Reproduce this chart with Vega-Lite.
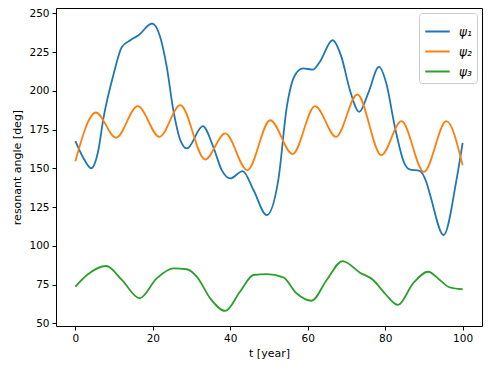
{
  "$schema": "https://vega.github.io/schema/vega-lite/v6.json",
  "width": 426,
  "height": 318,
  "autosize": {"type": "none"},
  "padding": {"left": 56, "top": 8, "right": 9, "bottom": 45},
  "background": "white",
  "config": {
    "font": "DejaVu Sans",
    "view": {"stroke": "black", "strokeWidth": 1},
    "axis": {
      "domain": false,
      "grid": false,
      "tickColor": "black",
      "tickSize": 4,
      "tickWidth": 1,
      "labelColor": "black",
      "labelFont": "DejaVu Sans",
      "labelFontSize": 10.5,
      "labelPadding": 3,
      "titleFont": "DejaVu Sans",
      "titleFontSize": 11,
      "titleFontWeight": "normal",
      "titleColor": "black"
    },
    "legend": {
      "labelFont": "DejaVu Sans",
      "labelFontSize": 12,
      "labelFontStyle": "italic",
      "labelColor": "black"
    }
  },
  "data": {
    "values": [
      {"t": 0, "v": 167.5, "s": "ψ₁"},
      {"t": 2, "v": 157, "s": "ψ₁"},
      {"t": 4.1, "v": 150, "s": "ψ₁"},
      {"t": 5.8, "v": 160, "s": "ψ₁"},
      {"t": 7.3, "v": 183, "s": "ψ₁"},
      {"t": 9.9, "v": 211, "s": "ψ₁"},
      {"t": 12.0, "v": 228.3, "s": "ψ₁"},
      {"t": 14.2, "v": 232.6, "s": "ψ₁"},
      {"t": 16.3, "v": 235.8, "s": "ψ₁"},
      {"t": 19.8, "v": 243.4, "s": "ψ₁"},
      {"t": 21.9, "v": 234.7, "s": "ψ₁"},
      {"t": 23.6, "v": 215.4, "s": "ψ₁"},
      {"t": 25.3, "v": 187.5, "s": "ψ₁"},
      {"t": 27.1, "v": 168.2, "s": "ψ₁"},
      {"t": 28.8, "v": 162.8, "s": "ψ₁"},
      {"t": 32.9, "v": 177.2, "s": "ψ₁"},
      {"t": 35.6, "v": 163.9, "s": "ψ₁"},
      {"t": 37.8, "v": 148.8, "s": "ψ₁"},
      {"t": 40, "v": 143.5, "s": "ψ₁"},
      {"t": 43.2, "v": 148.2, "s": "ψ₁"},
      {"t": 46, "v": 136, "s": "ψ₁"},
      {"t": 49.4, "v": 119.8, "s": "ψ₁"},
      {"t": 52.4, "v": 142.4, "s": "ψ₁"},
      {"t": 54.6, "v": 189.6, "s": "ψ₁"},
      {"t": 56.7, "v": 210, "s": "ψ₁"},
      {"t": 58.8, "v": 214.4, "s": "ψ₁"},
      {"t": 61.4, "v": 213.7, "s": "ψ₁"},
      {"t": 63.1, "v": 218.6, "s": "ψ₁"},
      {"t": 66.4, "v": 232.6, "s": "ψ₁"},
      {"t": 68.7, "v": 221.9, "s": "ψ₁"},
      {"t": 70.9, "v": 200.4, "s": "ψ₁"},
      {"t": 73.3, "v": 186.4, "s": "ψ₁"},
      {"t": 75.6, "v": 198.3, "s": "ψ₁"},
      {"t": 78.4, "v": 215.4, "s": "ψ₁"},
      {"t": 80.3, "v": 204.7, "s": "ψ₁"},
      {"t": 82.5, "v": 176.7, "s": "ψ₁"},
      {"t": 85, "v": 153, "s": "ψ₁"},
      {"t": 86.3, "v": 149.3, "s": "ψ₁"},
      {"t": 88.9, "v": 148.4, "s": "ψ₁"},
      {"t": 90.6, "v": 141.3, "s": "ψ₁"},
      {"t": 91.5, "v": 133.8, "s": "ψ₁"},
      {"t": 95.1, "v": 107, "s": "ψ₁"},
      {"t": 98.4, "v": 142.4, "s": "ψ₁"},
      {"t": 100, "v": 166.4, "s": "ψ₁"},

      {"t": 0, "v": 154.6, "s": "ψ₂"},
      {"t": 5.3, "v": 186, "s": "ψ₂"},
      {"t": 10.5, "v": 169.7, "s": "ψ₂"},
      {"t": 16.1, "v": 190.1, "s": "ψ₂"},
      {"t": 21.7, "v": 170.3, "s": "ψ₂"},
      {"t": 27.1, "v": 190.7, "s": "ψ₂"},
      {"t": 33.5, "v": 155.7, "s": "ψ₂"},
      {"t": 38.7, "v": 172.5, "s": "ψ₂"},
      {"t": 44.4, "v": 148.8, "s": "ψ₂"},
      {"t": 50.3, "v": 181, "s": "ψ₂"},
      {"t": 56.1, "v": 159.2, "s": "ψ₂"},
      {"t": 61.9, "v": 190.1, "s": "ψ₂"},
      {"t": 67.3, "v": 170.3, "s": "ψ₂"},
      {"t": 72.8, "v": 197.6, "s": "ψ₂"},
      {"t": 79, "v": 158.5, "s": "ψ₂"},
      {"t": 84.2, "v": 180.4, "s": "ψ₂"},
      {"t": 90, "v": 147.7, "s": "ψ₂"},
      {"t": 95.8, "v": 180.4, "s": "ψ₂"},
      {"t": 100, "v": 152, "s": "ψ₂"},

      {"t": 0, "v": 73.7, "s": "ψ₃"},
      {"t": 3, "v": 81.2, "s": "ψ₃"},
      {"t": 8, "v": 87, "s": "ψ₃"},
      {"t": 12, "v": 78, "s": "ψ₃"},
      {"t": 16.6, "v": 66.2, "s": "ψ₃"},
      {"t": 21, "v": 79, "s": "ψ₃"},
      {"t": 25.3, "v": 85.5, "s": "ψ₃"},
      {"t": 28.8, "v": 84.9, "s": "ψ₃"},
      {"t": 31.4, "v": 80, "s": "ψ₃"},
      {"t": 34.8, "v": 66.2, "s": "ψ₃"},
      {"t": 38.7, "v": 58, "s": "ψ₃"},
      {"t": 42.5, "v": 70.4, "s": "ψ₃"},
      {"t": 46, "v": 81.2, "s": "ψ₃"},
      {"t": 49.4, "v": 81.8, "s": "ψ₃"},
      {"t": 53.7, "v": 79.7, "s": "ψ₃"},
      {"t": 57.1, "v": 69.4, "s": "ψ₃"},
      {"t": 61, "v": 64.6, "s": "ψ₃"},
      {"t": 64.9, "v": 78, "s": "ψ₃"},
      {"t": 69, "v": 90.2, "s": "ψ₃"},
      {"t": 73.5, "v": 82.7, "s": "ψ₃"},
      {"t": 76.9, "v": 78, "s": "ψ₃"},
      {"t": 79.9, "v": 69.4, "s": "ψ₃"},
      {"t": 83.3, "v": 61.9, "s": "ψ₃"},
      {"t": 87.2, "v": 75.8, "s": "ψ₃"},
      {"t": 91.1, "v": 83.3, "s": "ψ₃"},
      {"t": 94.1, "v": 78, "s": "ψ₃"},
      {"t": 96.6, "v": 73.3, "s": "ψ₃"},
      {"t": 100, "v": 72, "s": "ψ₃"}
    ]
  },
  "mark": {"type": "line", "interpolate": "monotone", "strokeWidth": 1.8},
  "encoding": {
    "x": {
      "field": "t",
      "type": "quantitative",
      "scale": {"domain": [-5, 105], "nice": false, "zero": false},
      "axis": {"title": "t [year]", "values": [0, 20, 40, 60, 80, 100], "titlePadding": 4}
    },
    "y": {
      "field": "v",
      "type": "quantitative",
      "scale": {"domain": [48.3, 253.4], "nice": false, "zero": false},
      "axis": {"title": "resonant angle [deg]", "values": [50, 75, 100, 125, 150, 175, 200, 225, 250], "titlePadding": 6}
    },
    "color": {
      "field": "s",
      "type": "nominal",
      "scale": {"domain": ["ψ₁", "ψ₂", "ψ₃"], "range": ["#1f77b4", "#ff7f0e", "#2ca02c"]},
      "legend": {
        "title": null,
        "orient": "top-right",
        "offset": 5,
        "symbolType": "stroke",
        "symbolSize": 600,
        "symbolStrokeWidth": 2,
        "labelOffset": 8,
        "rowPadding": -6,
        "padding": 5,
        "strokeColor": "#cccccc",
        "fillColor": "white",
        "cornerRadius": 3
      }
    }
  }
}
